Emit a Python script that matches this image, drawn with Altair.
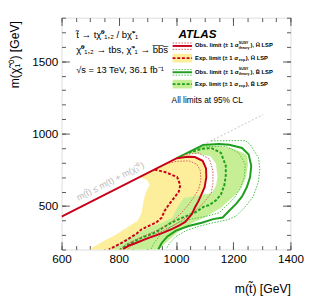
import altair as alt
import pandas as pd

W, H = 235, 238
XD = [600, 1400]
YD = [200, 1800]

# ---- bands (horizontal areas: for each y, x from left edge to right edge)
yel_y  = [200, 220, 260, 300, 354, 399, 454, 532, 588, 644, 677, 700, 756, 800, 834, 858]
yel_xl = [697, 714, 749, 788, 830, 866, 880, 886, 893, 907, 902, 873, 929, 973, 1007, 1031]
yel_xr = [850, 862, 890, 925, 975, 1010, 1040, 1072, 1088, 1100, 1104, 1106, 1106, 1100, 1080, 1040]

grn_y  = [200, 220, 265, 309, 354, 387, 421, 488, 555, 590, 640, 700, 790, 845, 858, 866, 901, 925]
grn_xl = [770, 783, 817, 862, 907, 953, 987, 1004, 1027, 1125, 1140, 1145, 1140, 1120, 1080, 1039, 1074, 1098]
grn_xr = [940, 950, 975, 1000, 1030, 1060, 1100, 1157, 1195, 1214, 1232, 1245, 1252, 1248, 1244, 1237, 1191, 1105]

# ---- contour lines
rs_x = [600, 1003, 1040, 1066, 1093, 1105, 1106, 1100, 1089, 1078, 1066, 1055, 1032, 1010, 987, 960, 930, 905, 885, 860, 840, 825, 815]
rs_y = [427, 830, 840, 838, 812, 760, 700, 630, 580, 532, 490, 443, 390, 365, 343, 320, 298, 280, 265, 245, 231, 215, 200]

ro_x = [1025, 1078, 1117, 1129, 1129, 1123, 1100, 1075, 1050, 1020, 990, 955, 920, 890, 860, 840, 830]
ro_y = [852, 867, 823, 745, 655, 588, 530, 480, 440, 400, 365, 330, 300, 275, 245, 220, 200]

ri_x = [965, 1000, 1045, 1072, 1085, 1087, 1080, 1062, 1040, 1015, 990, 960, 925, 890, 855, 825, 805]
ri_y = [792, 808, 812, 790, 745, 680, 620, 560, 500, 445, 400, 360, 325, 295, 265, 235, 200]

rd_x = [925, 964, 1004, 1015, 1010, 995, 975, 960, 950, 930, 907, 880, 862, 835, 810, 785, 765]
rd_y = [752, 733, 700, 644, 600, 560, 510, 466, 420, 385, 365, 340, 309, 275, 245, 220, 200]

gs_x = [1003, 1095, 1150, 1186, 1231, 1254, 1263, 1259, 1248, 1231, 1210, 1185, 1163, 1130, 1090, 1044, 1000, 970, 950, 938]
gs_y = [830, 922, 928, 923, 901, 856, 778, 700, 633, 566, 515, 466, 421, 410, 385, 362, 330, 290, 245, 200]

go_x = [1123, 1242, 1260, 1288, 1293, 1288, 1270, 1240, 1210, 1180, 1130, 1080, 1035, 1000, 978, 965]
go_y = [950, 952, 923, 834, 756, 666, 566, 490, 430, 405, 385, 360, 330, 290, 245, 200]

gi_x = [1065, 1112, 1174, 1220, 1242, 1239, 1225, 1203, 1174, 1151, 1112, 1055, 1010, 976, 945, 925, 912]
gi_y = [892, 912, 912, 867, 789, 700, 622, 555, 499, 454, 432, 410, 387, 350, 300, 250, 200]

gd_x = [1044, 1089, 1123, 1157, 1174, 1174, 1169, 1157, 1140, 1115, 1100, 1072, 1038, 1004, 975, 950, 930, 905, 885, 860, 840, 820, 805]
gd_y = [867, 894, 901, 867, 778, 711, 644, 580, 540, 505, 499, 461, 432, 405, 375, 345, 320, 300, 287, 262, 242, 220, 200]

diag_x = [1095, 1305]
diag_y = [922, 1132]

FONT = "Liberation Sans"
XS = alt.Scale(domain=XD, nice=False, zero=False)
YS = alt.Scale(domain=YD, nice=False, zero=False)
TICKC = "#555555"


def tick_axis(orient, values, size):
    return alt.Axis(orient=orient, offset=-(H if orient in ("top", "bottom") else W),
                    values=values, tickSize=size, tickColor=TICKC, tickWidth=1,
                    labels=False, domain=False, grid=False, title=None)


x_minor = list(range(600, 1401, 50))
x_major = list(range(600, 1401, 200))
y_minor = list(range(200, 1801, 100))
y_major = [500, 1000, 1500]

band_y = pd.DataFrame({"y": yel_y, "xl": yel_xl, "xr": yel_xr})
band_g = pd.DataFrame({"y": grn_y, "xl": grn_xl, "xr": grn_xr})

x_main = alt.Axis(orient="bottom", values=x_major, ticks=False, domain=False, grid=False,
                  format="d", labelFlush=False, labelOverlap=False,
                  labelFontSize=12, labelFont=FONT, labelColor="black", labelPadding=4,
                  title="m(t\u0303) [GeV]", titleFont=FONT, titleFontSize=12.5,
                  titleFontWeight="normal", titleColor="black",
                  titleAnchor="end", titleAlign="right", titleX=W, titleY=40,
                  titleBaseline="middle")
y_main = alt.Axis(orient="left", values=y_major, ticks=False, domain=False, grid=False,
                  format="d", labelFlush=False, labelOverlap=False,
                  labelFontSize=12, labelFont=FONT, labelColor="black", labelPadding=4,
                  title="m(\u03c7\u0303\u2081\u2070) [GeV]", titleFont=FONT, titleFontSize=12.5,
                  titleFontWeight="normal", titleColor="black",
                  titleAnchor="end", titleAlign="right", titleAngle=270,
                  titleX=-41, titleY=3, titleBaseline="bottom")

yellow = alt.Chart(band_y).mark_area(orient="horizontal", color="#fdee9c").encode(
    y=alt.Y("y:Q", scale=YS, axis=y_main),
    x=alt.X("xl:Q", scale=XS, axis=x_main),
    x2="xr:Q",
)
green = alt.Chart(band_g).mark_area(orient="horizontal", color="#c6ef95").encode(
    y=alt.Y("y:Q", scale=YS, axis=tick_axis("right", y_minor, 4)),
    x=alt.X("xl:Q", scale=XS, axis=tick_axis("top", x_minor, 4)),
    x2="xr:Q",
)


def line(xv, yv, color, width, dash=None, xax=None, yax=None):
    df = pd.DataFrame({"x": xv, "y": yv, "i": list(range(len(xv)))})
    kw = dict(color=color, strokeWidth=width, clip=True)
    if dash is not None:
        kw["strokeDash"] = dash
    return alt.Chart(df).mark_line(**kw).encode(
        x=alt.X("x:Q", scale=XS, axis=xax),
        y=alt.Y("y:Q", scale=YS, axis=yax),
        order="i:Q",
    )


RED = "#c8001a"
REDL = "#d9585a"
GRN = "#1d9e1d"
GRNL = "#45c045"

l_diag = line(diag_x, diag_y, "#c4c4c4", 1, [2, 2])
l_go = line(go_x, go_y, GRNL, 1, [1.5, 1.5])
l_gi = line(gi_x, gi_y, GRNL, 1, [1.5, 1.5])
l_gd = line(gd_x, gd_y, GRN, 2, [3, 1.8])
l_gs = line(gs_x, gs_y, GRN, 2)
l_ro = line(ro_x, ro_y, REDL, 1, [1.5, 1.5], tick_axis("bottom", x_major, 8), tick_axis("left", y_major, 8))
l_ri = line(ri_x, ri_y, REDL, 1, [1.5, 1.5])
l_rd = line(rd_x, rd_y, RED, 2, [3, 1.8], tick_axis("top", x_major, 8), tick_axis("right", y_major, 8))
l_rs = line(rs_x, rs_y, RED, 2, None, tick_axis("bottom", x_minor, 4), tick_axis("left", y_minor, 4))

base = alt.Chart(pd.DataFrame({"a": [0]}))


def txt(s, x, y, size, weight="normal", style="normal", color="black", align="left", angle=0):
    kw = dict(align=align, baseline="middle", font=FONT, fontSize=size, fontWeight=weight,
              fontStyle=style, color=color)
    if angle:
        kw["angle"] = angle
    return base.mark_text(**kw).encode(x=alt.value(x), y=alt.value(y), text=alt.value(s))


def hrule(x1, x2, y, color, width, dash=None):
    kw = dict(color=color, strokeWidth=width)
    if dash is not None:
        kw["strokeDash"] = dash
    return base.mark_rule(**kw).encode(x=alt.value(x1), x2=alt.value(x2), y=alt.value(y))


def box(x1, x2, y1, y2, color):
    return base.mark_rect(color=color).encode(x=alt.value(x1), x2=alt.value(x2),
                                             y=alt.value(y1), y2=alt.value(y2))


LX1, LX2 = 114, 134
TX = 137
ann = [
    txt("t\u0303 \u2192 t\u03c7\u0303\u2070\u2081,\u2082 / b\u03c7\u0303\u207a\u2081", 15, 18, 9.8),
    txt("\u03c7\u0303\u2070\u2081,\u2082 \u2192 tbs, \u03c7\u0303\u207a\u2081 \u2192 b\u0305b\u0305s\u0305", 15, 33, 9.8),
    txt("\u221as = 13 TeV, 36.1 fb\u207b\u00b9", 15, 54, 9.5),
    txt("ATLAS", 120, 17, 12, weight="bold", style="italic"),
    # entry 1 obs H
    hrule(LX1, LX2, 26, REDL, 1, [1.5, 1.5]),
    hrule(LX1, LX2, 29, RED, 2),
    hrule(LX1, LX2, 32.5, REDL, 1, [1.5, 1.5]),
    txt("Obs. limit (\u00b1 1 \u03c3", TX, 28.5, 6, weight="bold"),
    txt("SUSY", 182, 26, 3.6, weight="bold"),
    txt("theory", 182, 31.2, 3.6, weight="bold"),
    txt("), H\u0303 LSP", 194, 28.5, 6, weight="bold"),
    # entry 2 exp H
    box(LX1, LX2, 37, 46, "#fdee9c"),
    hrule(LX1, LX2, 41.5, RED, 2, [3, 1.8]),
    txt("Exp. limit (\u00b1 1 \u03c3", TX, 41.5, 6, weight="bold"),
    txt("exp", 182, 43.5, 3.8, weight="bold"),
    txt("), H\u0303 LSP", 189, 41.5, 6, weight="bold"),
    # entry 3 obs B
    hrule(LX1, LX2, 53.3, GRNL, 1, [1.5, 1.5]),
    hrule(LX1, LX2, 56, GRN, 2),
    hrule(LX1, LX2, 59, GRNL, 1, [1.5, 1.5]),
    txt("Obs. limit (\u00b1 1 \u03c3", TX, 55.5, 6, weight="bold"),
    txt("SUSY", 182, 53, 3.6, weight="bold"),
    txt("theory", 182, 58.2, 3.6, weight="bold"),
    txt("), B\u0303 LSP", 194, 55.5, 6, weight="bold"),
    # entry 4 exp B
    box(LX1, LX2, 63.7, 72.7, "#c6ef95"),
    hrule(LX1, LX2, 68.2, GRN, 2, [3, 1.8]),
    txt("Exp. limit (\u00b1 1 \u03c3", TX, 68.2, 6, weight="bold"),
    txt("exp", 182, 70.2, 3.8, weight="bold"),
    txt("), B\u0303 LSP", 189, 68.2, 6, weight="bold"),
    txt("All limits at 95% CL", 113, 84.5, 8.5),
    txt("m(t\u0303) \u2264 m(t) + m(\u03c7\u0303\u2081\u2070)", 50, 168, 9, color="#b8b8b8",
        align="center", angle=333),
]

chart = alt.layer(
    yellow, green, l_diag, l_go, l_gi, l_gd, l_gs, l_ro, l_ri, l_rd, l_rs, *ann
).resolve_scale(x="shared", y="shared").resolve_axis(x="independent", y="independent").properties(
    width=W, height=H,
    padding={"left": 55, "top": 6, "right": 17, "bottom": 52},
    autosize=alt.AutoSizeParams(type="none"),
).configure_view(stroke="#555555", strokeWidth=1.3).configure(background="white")

chart.save("out.html", embed_options={"renderer": "svg", "actions": False})
